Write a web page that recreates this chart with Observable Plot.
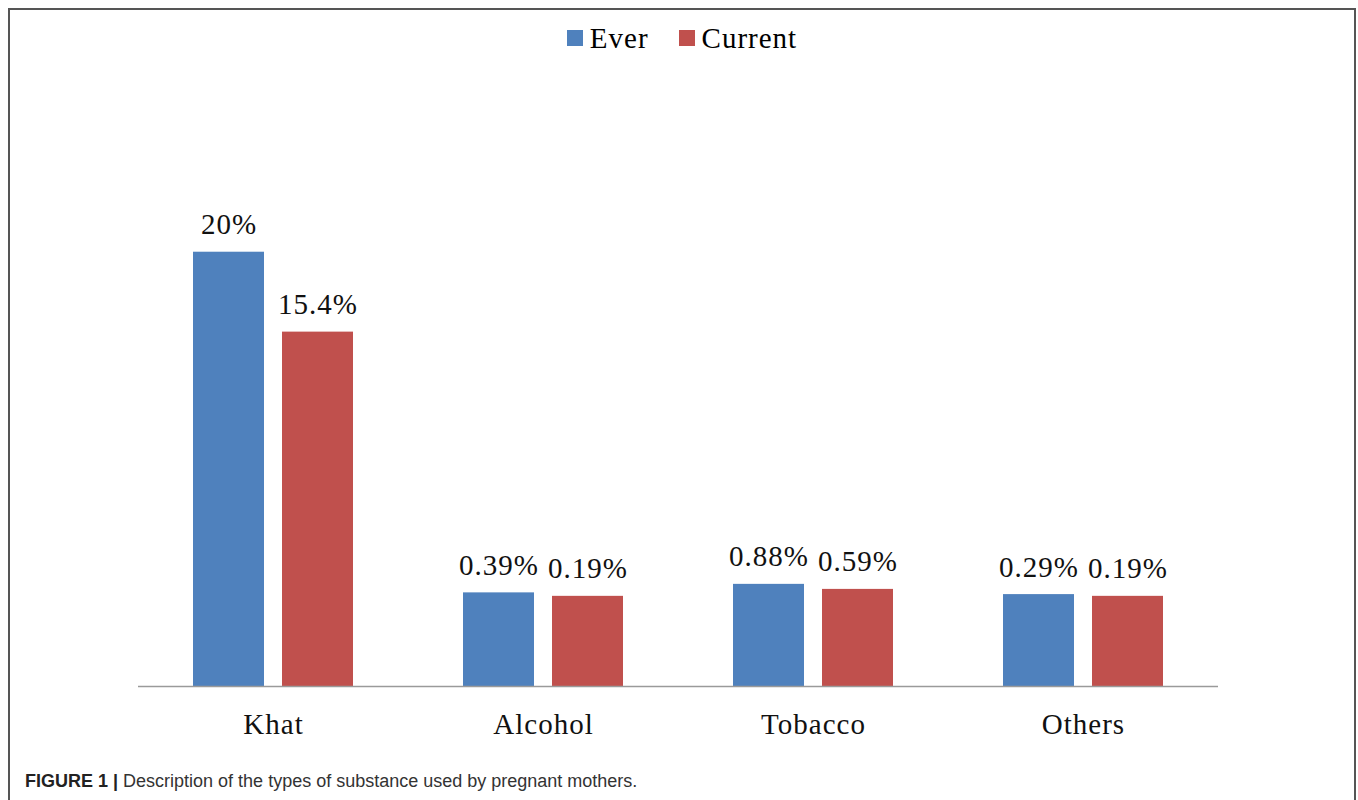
<!DOCTYPE html>
<html>
<head>
<meta charset="utf-8">
<script src="https://cdn.jsdelivr.net/npm/d3@7"></script>
<script src="https://cdn.jsdelivr.net/npm/@observablehq/plot@0.6"></script>
<style>
  html, body { margin: 0; padding: 0; background: #fff; }
  #frame {
    position: relative;
    margin: 8px 0 0 8px;
    width: 1348px;
    height: 900px;
    box-sizing: border-box;
    border: 2px solid #555;
    overflow: hidden;
  }
  #legend {
    height: 56px;
    display: flex;
    justify-content: center;
    align-items: center;
    font-family: "Liberation Serif", "Times New Roman", serif;
    font-size: 29px;
    letter-spacing: 1px;
    color: #000;
  }
  .item { display: flex; align-items: center; margin: 0 15px; }
  .sw { width: 16px; height: 16px; margin-right: 7px; }
  #caption {
    margin-top: 5px;
    padding-left: 15px;
    font-family: "Liberation Sans", Arial, sans-serif;
    font-size: 18px;
    line-height: 20px;
    color: #333;
  }
  #caption b { color: #222; }
</style>
</head>
<body>
<div id="frame">
  <div id="legend"></div>
  <div id="chart"></div>
  <div id="caption"><b>FIGURE 1 |</b> Description of the types of substance used by pregnant mothers.</div>
</div>
<script>
const categories = ["Khat", "Alcohol", "Tobacco", "Others"];
const series = ["Ever", "Current"];
const everValues = [20, 0.39, 0.88, 0.29];
const currentValues = [15.4, 0.19, 0.59, 0.19];
const colors = ["#4F81BD", "#C0504D"];
const axisMin = -5;
const axisMax = 30;

const data = [];
categories.forEach((c, i) => {
  data.push({cat: c, series: "Ever", value: everValues[i]});
  data.push({cat: c, series: "Current", value: currentValues[i]});
});

// legend
const legend = document.getElementById("legend");
series.forEach((s, i) => {
  const it = document.createElement("div");
  it.className = "item";
  it.innerHTML = `<span class="sw" style="background:${colors[i]}"></span><span>${s}</span>`;
  legend.appendChild(it);
});

const serif = "'Liberation Serif', 'Times New Roman', serif";

const chart = Plot.plot({
  width: 1344,
  height: 700,
  marginLeft: 127,
  marginRight: 135,
  marginTop: 12,
  marginBottom: 80,
  style: {fontFamily: serif, background: "#fff", letterSpacing: "1px"},
  fx: {domain: categories, padding: 0, label: null},
  x: {domain: series, paddingInner: 0.2, paddingOuter: 0.603, axis: null},
  y: {domain: [axisMin, axisMax], axis: null},
  color: {domain: series, range: colors},
  marks: [
    Plot.barY(data, {fx: "cat", x: "series", y1: axisMin, y2: "value", fill: "series"}),
    Plot.ruleY([axisMin], {stroke: "#9a9a9a", strokeWidth: 1.6}),
    Plot.text(data, {
      fx: "cat", x: "series", y: "value",
      text: d => d.value + "%",
      dy: -18, lineAnchor: "bottom",
      fontSize: 29, fontFamily: serif, fill: "#111"
    }),
    Plot.axisFx({
      anchor: "bottom", label: null, tickSize: 0, tickPadding: 27,
      fontSize: 29, fontFamily: serif, fill: "#111"
    })
  ]
});
document.getElementById("chart").appendChild(chart);
</script>
</body>
</html>
